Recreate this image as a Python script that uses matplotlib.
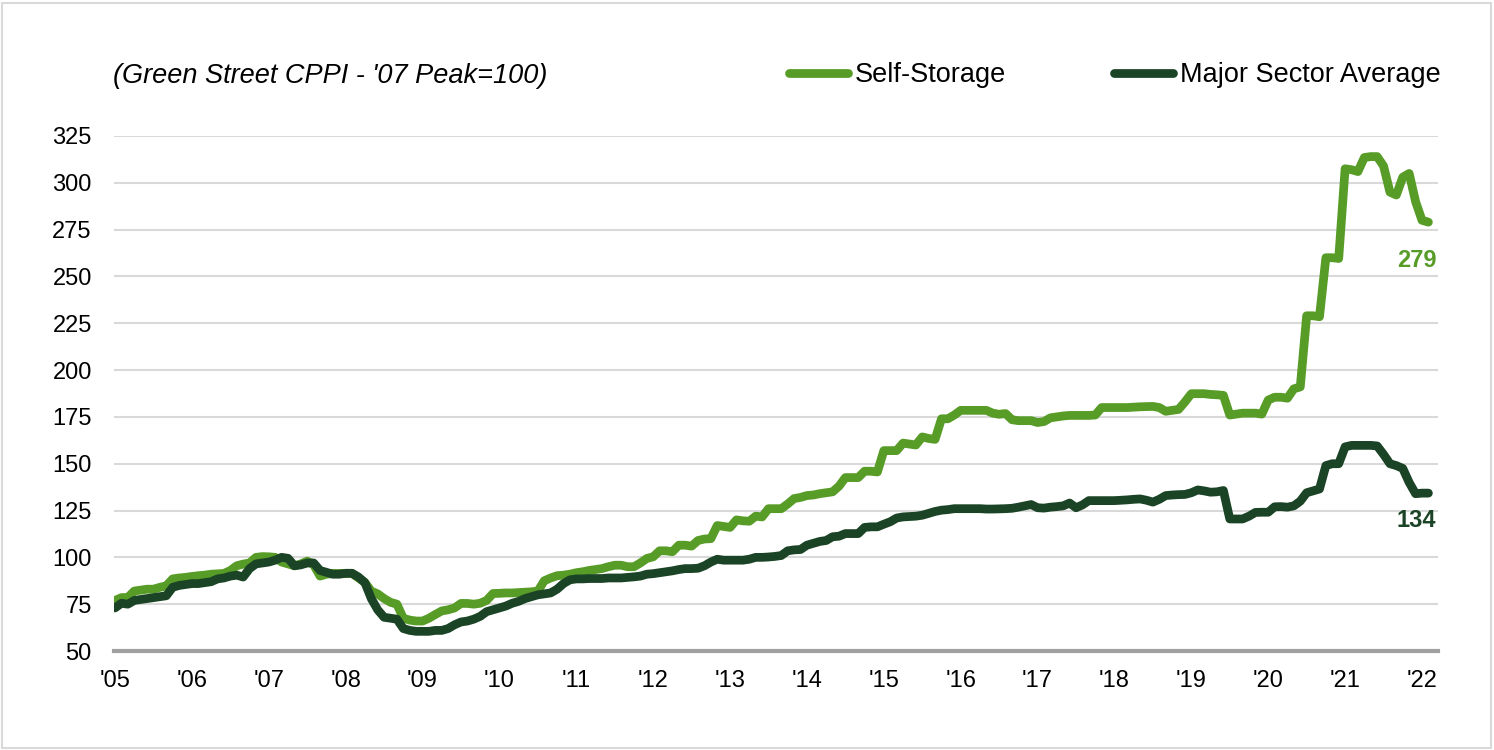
import matplotlib
matplotlib.use("Agg")
import matplotlib.pyplot as plt
from matplotlib.patches import Rectangle

plt.rcParams['font.family'] = ['Liberation Sans', 'DejaVu Sans']

# monthly index values, Jan 2005 .. Feb 2022 (Green Street CPPI, '07 peak = 100)
self_storage = [
    77, 78.5, 78.6, 82, 82.5, 83, 83, 84, 84.8, 88.5, 89, 89.3,                    # 2005
    89.8, 90.2, 90.5, 91, 91.2, 91.4, 93, 95.5, 96.4, 97, 100, 100.4,              # 2006
    100.3, 100, 97.5, 96.5, 95.5, 96.5, 98, 96, 90, 91, 91.4, 91.4,                # 2007
    91.4, 91.4, 89, 86.6, 82, 80.5, 78, 76, 75, 67.5, 66.5, 66,                    # 2008
    66, 67.5, 69.5, 71.4, 72, 73, 75.4, 75.4, 75, 75.5, 77, 80.7,                  # 2009
    80.8, 81, 81, 81.2, 81.4, 81.6, 82, 87.5, 89, 90.2, 90.5, 91,                  # 2010
    91.8, 92.3, 93, 93.5, 94, 95, 95.8, 95.8, 95, 95, 97, 99.4,                    # 2011
    100.3, 103.5, 103.5, 103, 106.5, 106.5, 106, 109, 109.8, 110, 117, 116.5,      # 2012
    116, 120, 119.5, 119.3, 122, 121.6, 126, 126, 126, 128.5, 131.4, 132,          # 2013
    133, 133.3, 134, 134.5, 135, 138, 142.6, 142.6, 142.6, 146, 146, 145.6,        # 2014
    157, 157, 157, 161, 160.5, 160, 164.3, 163.5, 163, 174, 174, 176,              # 2015
    178.5, 178.5, 178.5, 178.5, 178.5, 177, 176.4, 176.8, 173.5, 173, 173, 173,    # 2016
    172, 172.5, 174.5, 175, 175.5, 175.8, 175.8, 175.8, 175.8, 176, 180, 180,      # 2017
    180, 180, 180, 180.2, 180.4, 180.5, 180.6, 180, 178, 178.5, 179, 183,          # 2018
    187.4, 187.4, 187.4, 187, 186.8, 186.5, 176, 176.5, 177, 177, 177, 176.5,      # 2019
    184, 185.5, 185.5, 185, 190, 191, 229, 229, 228.5, 260, 260, 259.6,            # 2020
    307.5, 307, 306, 313.5, 314, 314, 309, 295, 293.5, 303, 305, 290,              # 2021
    280, 279,                                                                      # 2022
]

major_avg = [
    73, 75.5, 75, 77, 77.5, 78, 78.5, 79, 79.5, 84, 85, 85.5,                      # 2005
    86, 86, 86.5, 87, 88.5, 89, 90, 90.5, 89.5, 94, 96.5, 97,                      # 2006
    97.5, 98.5, 100, 99.5, 95.5, 96, 97, 97, 93, 92, 91, 91,                       # 2007
    91.5, 91.5, 89.5, 86.5, 78, 72, 68, 67.5, 67, 62, 61, 60.5,                    # 2008
    60.5, 60.5, 61, 61, 62, 64, 65.5, 66, 67, 68.5, 71, 72,                        # 2009
    73, 74, 75.5, 76.5, 78, 79, 80, 80.5, 81, 83, 86, 88,                          # 2010
    88.5, 88.5, 88.7, 88.7, 88.7, 89, 89, 89, 89.3, 89.6, 90, 91,                  # 2011
    91.3, 91.8, 92.3, 92.8, 93.5, 94, 94, 94.2, 95.5, 97.5, 99, 98.5,              # 2012
    98.5, 98.5, 98.5, 99, 100, 100, 100.2, 100.5, 101, 103.5, 104, 104.2,          # 2013
    106.5, 107.5, 108.5, 109, 111, 111.3, 112.7, 112.7, 112.7, 116, 116.3, 116.3,  # 2014
    117.7, 119, 121, 121.6, 121.8, 122, 122.5, 123.5, 124.5, 125.2, 125.5, 126,    # 2015
    126, 126, 126, 126, 125.8, 125.8, 125.9, 126, 126.2, 126.8, 127.5, 128.2,      # 2016
    126.5, 126.3, 126.8, 127.1, 127.5, 129, 126.5, 128, 130.3, 130.3, 130.3, 130.3,  # 2017
    130.3, 130.5, 130.7, 131, 131.2, 130.5, 129.5, 131, 133, 133.3, 133.5, 133.6,  # 2018
    134.5, 136, 135.5, 134.8, 135, 135.7, 120.5, 120.5, 120.5, 122, 124, 124.1,    # 2019
    124.1, 127, 127.1, 126.8, 127.5, 130, 134.5, 135.5, 136.5, 149, 150, 150,      # 2020
    159, 159.8, 159.8, 159.8, 159.8, 159.5, 155, 150, 149, 147.5, 140, 134,        # 2021
    134.3, 134.3,                                                                  # 2022
]

year_labels = ["'05", "'06", "'07", "'08", "'09", "'10", "'11", "'12", "'13",
               "'14", "'15", "'16", "'17", "'18", "'19", "'20", "'21", "'22"]
y_ticks = [50, 75, 100, 125, 150, 175, 200, 225, 250, 275, 300, 325]

LIGHT = "#589C28"
DARK = "#1B4426"
LW = 6.3

W, H = 1494, 750
fig = plt.figure(figsize=(W / 100, H / 100), dpi=100)
ax = fig.add_axes([114 / W, 1 - 651 / H, (1438 - 114) / W, (651 - 136) / H])

months = list(range(len(self_storage)))
ax.plot(months, self_storage, color=LIGHT, lw=LW, solid_capstyle="round",
        solid_joinstyle="round", label="Self-Storage", zorder=3)
ax.plot(months, major_avg, color=DARK, lw=LW, solid_capstyle="round",
        solid_joinstyle="round", label="Major Sector Average", zorder=4)

ax.set_xlim(-0.16, 206.5)
ax.set_ylim(50, 325)
ax.set_yticks(y_ticks)
ax.set_xticks([12 * i for i in range(len(year_labels))])
ax.set_xticklabels(year_labels)
ax.tick_params(axis="both", length=0, labelsize=17, colors="black")
ax.tick_params(axis="y", pad=16)
ax.tick_params(axis="x", pad=14)

ax.grid(axis="y", color="#D9D9D9", lw=1.5)
ax.set_axisbelow(True)
for side in ["top", "right", "left"]:
    ax.spines[side].set_visible(False)
ax.spines["bottom"].set_color("#A0A0A0")
ax.spines["bottom"].set_linewidth(3)
ax.spines["bottom"].set_zorder(5)

# end-of-series labels
ax.annotate(f"{self_storage[-1]:.0f}", xy=(months[-1], self_storage[-1]),
            xytext=(8, -38), textcoords="offset pixels", ha="right", va="center",
            fontsize=17, fontweight="bold", color=LIGHT)
ax.annotate(f"{major_avg[-1]:.0f}", xy=(months[-1], major_avg[-1]),
            xytext=(8, -27), textcoords="offset pixels", ha="right", va="center",
            fontsize=17, fontweight="bold", color=DARK)

fig.text(113 / W, 1 - 83 / H, "(Green Street CPPI - '07 Peak=100)",
         fontsize=19.5, style="italic", ha="left", va="baseline")

leg = ax.legend(loc="center left", bbox_to_anchor=(789 / W, 1 - 75 / H),
                bbox_transform=fig.transFigure, ncol=2, frameon=False,
                fontsize=19.5, handlelength=2.17, handletextpad=0.26,
                columnspacing=4.0, borderpad=0, borderaxespad=0)
for line in leg.get_lines():
    line.set_solid_capstyle("round")
    line.set_linewidth(LW)

# light frame around the whole image
fig.patches.append(Rectangle((2 / W, 2 / H), (W - 5) / W, (H - 5) / H,
                             transform=fig.transFigure, fill=False,
                             edgecolor="#D9D9D9", lw=1.5))

fig.savefig("out.png", dpi=100)
